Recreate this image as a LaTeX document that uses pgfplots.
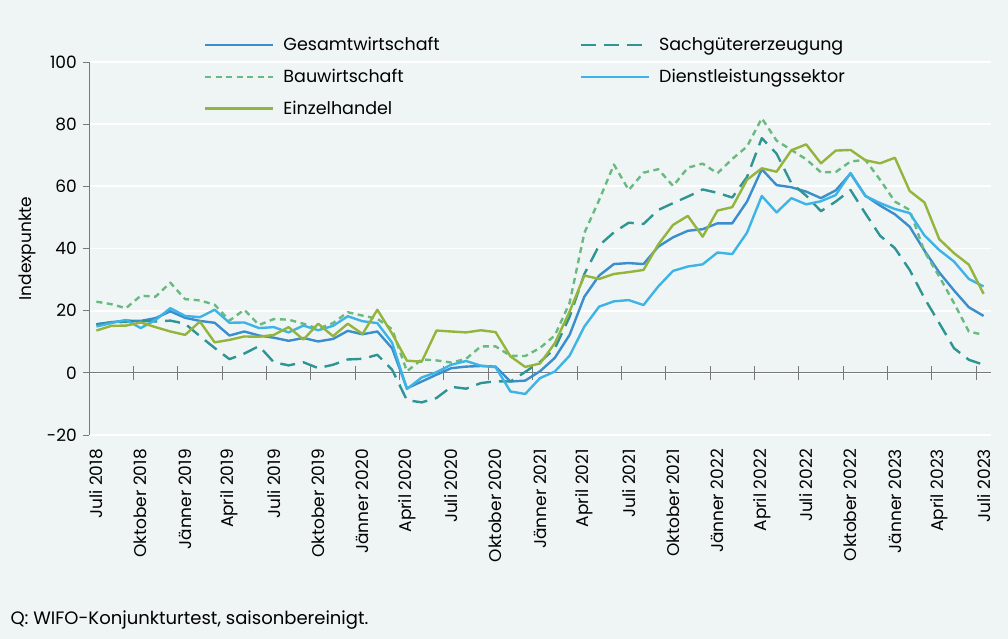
\documentclass[border=0pt]{standalone}
\usepackage{pgfplots}
\usepackage{pgfplotstable}
\pgfplotsset{compat=1.18}
\usepackage{fontspec}
\setmainfont{Poppins}
\definecolor{bg}{RGB}{239,245,245}
\definecolor{cGes}{RGB}{58,142,204}
\definecolor{cSach}{RGB}{46,148,148}
\definecolor{cBau}{RGB}{104,186,128}
\definecolor{cDienst}{RGB}{62,180,230}
\definecolor{cEinz}{RGB}{148,180,60}
\definecolor{axgray}{RGB}{120,120,120}
\pgfplotstableread{
i ges sach bau dienst einz
0 15.6 15.6 22.9 14.9 13.6
1 16.3 16.2 22.1 16.0 15.1
2 16.8 16.4 20.8 17.0 15.2
3 16.7 16.7 24.8 14.4 16.2
4 17.6 16.5 24.5 17.0 14.7
5 19.8 16.8 29.0 20.8 13.3
6 17.7 15.8 23.7 18.3 12.2
7 16.7 11.8 23.3 17.9 16.5
8 16.1 8.0 21.9 20.3 9.8
9 12.0 4.4 16.8 16.1 10.6
10 13.3 6.2 20.3 16.2 11.7
11 12.0 8.6 15.4 14.4 11.6
12 11.3 3.4 17.3 14.7 12.2
13 10.3 2.4 17.1 13.0 14.7
14 11.2 3.4 15.8 15.2 10.7
15 10.1 1.5 14.2 13.7 15.8
16 10.9 2.6 16.0 15.1 11.8
17 13.5 4.3 19.5 18.2 15.8
18 12.4 4.5 18.4 16.6 12.5
19 13.3 5.8 17.4 16.0 20.3
20 7.9 1.0 14.0 9.7 12.6
21 -5.0 -8.8 0.5 -5.2 3.9
22 -2.8 -9.5 4.3 -1.5 3.6
23 -0.6 -8.1 4.0 0.2 13.6
24 1.5 -4.5 3.3 2.6 13.3
25 2.0 -5.1 4.5 3.8 13.0
26 2.2 -3.3 8.5 2.3 13.7
27 2.0 -2.7 8.5 1.8 13.1
28 -2.8 -2.8 5.5 -6.0 5.3
29 -2.5 0.3 5.4 -6.8 1.9
30 0.5 3.5 8.0 -1.7 3.0
31 4.8 7.8 12.0 0.4 9.5
32 12.2 18.0 22.5 5.5 19.7
33 24.5 31.8 45.0 14.9 31.3
34 31.3 41.0 55.6 21.3 30.2
35 35.0 45.2 67.0 23.0 31.8
36 35.3 48.3 58.8 23.4 32.4
37 35.0 47.9 64.4 21.8 33.1
38 40.6 52.4 65.5 27.8 41.3
39 43.6 54.6 60.1 32.8 47.6
40 45.7 56.7 66.0 34.2 50.5
41 46.2 59.0 67.3 34.9 43.8
42 48.1 57.9 64.2 38.7 52.2
43 48.1 56.4 68.8 38.2 53.3
44 55.1 63.0 72.8 45.1 62.1
45 65.5 75.5 81.9 56.9 65.8
46 60.4 70.5 74.7 51.6 64.7
47 59.7 61.0 71.7 56.2 71.6
48 58.3 57.0 68.7 54.2 73.5
49 56.2 52.0 64.5 55.2 67.4
50 58.7 55.1 64.6 57.2 71.5
51 64.1 58.8 68.0 64.3 71.7
52 57.0 51.3 68.5 56.9 68.4
53 53.8 44.1 62.1 54.6 67.4
54 51.0 40.1 55.1 52.7 69.2
55 47.0 33.1 52.4 51.4 58.5
56 39.3 24.0 39.0 44.2 54.8
57 32.3 16.0 31.0 39.5 43.0
58 26.5 7.9 22.4 35.8 38.5
59 21.1 4.2 13.3 30.2 34.8
60 18.3 2.6 12.2 27.8 25.4
}\datatable
\begin{document}
\begin{tikzpicture}[x=1pt,y=1pt]
\fill[bg] (0,0) rectangle (1008,639);
\useasboundingbox (0,0) rectangle (1008,639);
\begin{axis}[
  at={(89pt,204pt)}, anchor=south west,
  scale only axis, width=902pt, height=373pt,
  xmin=-0.5, xmax=60.5, ymin=-20, ymax=100,
  ytick={-20,0,...,100},
  xtick={0,3,...,60},
  xticklabels={Juli 2018,Oktober 2018,Jänner 2019,April 2019,Juli 2019,Oktober 2019,Jänner 2020,April 2020,Juli 2020,Oktober 2020,Jänner 2021,April 2021,Juli 2021,Oktober 2021,Jänner 2022,April 2022,Juli 2022,Oktober 2022,Jänner 2023,April 2023,Juli 2023},
  axis x line*=bottom, axis y line*=left,
  x axis line style={draw=none,-},
  y axis line style={draw=axgray, line width=0.9pt,-},
  xtick style={draw=none},
  ytick style={draw=axgray, line width=0.9pt},
  major tick length=6pt, tick align=outside,
  ymajorgrids, grid style={white, line width=1.8pt},
  tick label style={font=\fontsize{17}{20}\selectfont, text=black},
  /pgf/number format/assume math mode=true,
  xticklabel style={rotate=90, anchor=east, inner sep=2pt, xshift=-6pt},
  yticklabel style={inner sep=3pt, xshift=-3pt},
  ylabel={Indexpunkte},
  ylabel style={font=\fontsize{17}{20}\selectfont, at={(axis description cs:-0.068,0.5)}, anchor=center},
  legend columns=2,
  legend cell align=left,
  legend style={draw=none, fill=none, font=\fontsize{17.5}{20}\selectfont,
    at={(axis description cs:0.124,1.077)}, anchor=north west, row sep=13pt,
    /tikz/every odd column/.append style={column sep=7pt},
    /tikz/every even column/.append style={column sep=138pt}},
  legend image code/.code={\draw[#1, line width=2.4pt] (0pt,0pt) -- (68pt,0pt);},
  every axis plot/.append style={line width=2.4pt, line join=round},
]
\draw[axgray, line width=0.9pt] (axis cs:-0.5,0) -- (axis cs:60.5,0);
\pgfplotsinvokeforeach{2.5,5.5,8.5,11.5,14.5,17.5,20.5,23.5,26.5,29.5,32.5,35.5,38.5,41.5,44.5,47.5,50.5,53.5,56.5,59.5}{
  \draw[axgray, line width=0.9pt] (axis cs:#1,0) ++(0pt,-7pt) -- ++(0pt,14pt);
}
\addplot[cGes] table[x=i,y=ges] {\datatable};
\addlegendentry{Gesamtwirtschaft}
\addplot[cSach, dash pattern=on 15pt off 8pt] table[x=i,y=sach] {\datatable};
\addlegendentry{Sachgütererzeugung}
\addplot[cBau, dash pattern=on 6pt off 4.5pt] table[x=i,y=bau] {\datatable};
\addlegendentry{Bauwirtschaft}
\addplot[cDienst] table[x=i,y=dienst] {\datatable};
\addlegendentry{Dienstleistungssektor}
\addplot[cEinz] table[x=i,y=einz] {\datatable};
\addlegendentry{Einzelhandel}
\end{axis}
\node[anchor=west, font=\fontsize{18}{21}\selectfont] at (7pt,19pt) {Q: WIFO-Konjunkturtest, saisonbereinigt.};
\end{tikzpicture}
\end{document}
